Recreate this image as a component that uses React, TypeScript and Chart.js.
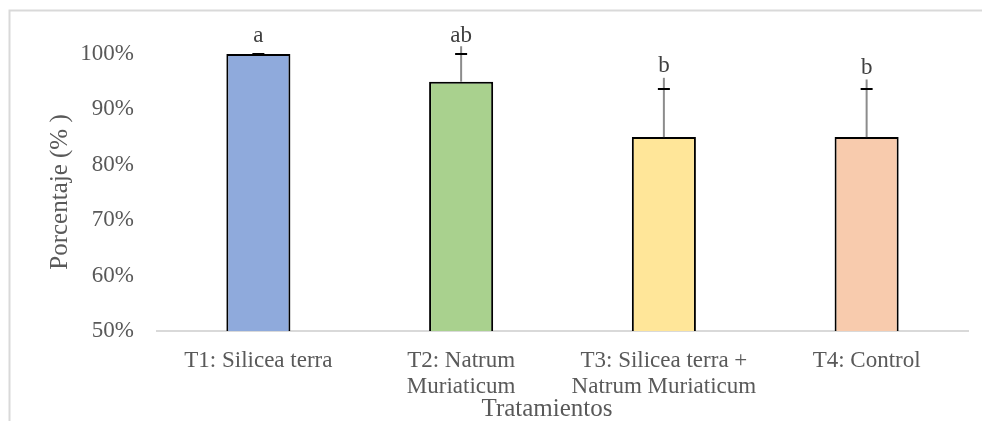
import React, { useEffect, useRef } from "react";
import { Chart, registerables } from "chart.js";

Chart.register(...registerables);

const categories: string[][] = [
  ["T1: Silicea terra"],
  ["T2: Natrum", "Muriaticum"],
  ["T3: Silicea terra +", "Natrum Muriaticum"],
  ["T4: Control"],
];
const values = [100, 95, 85, 85];
const barColors = ["#8faadc", "#a9d18e", "#ffe699", "#f8cbad"];
// error bar: gray whisker length and black cap offset (percentage points)
const errLine = [0, 6.4, 10.7, 10.4];
const errCap = [0, 5, 8.7, 8.7];
// significance letters and the value at which they sit
const letters = ["a", "ab", "b", "b"];
const letterAt = [103.2, 103.2, 97.8, 97.5];
const yTicks = { min: 50, max: 100, step: 10 };
const yTitle = "Porcentaje (% )";
const xTitle = "Tratamientos";

const FONT = "'Liberation Serif', 'Times New Roman', serif";
const TXT = "#595959";

export default function App() {
  const ref = useRef<HTMLCanvasElement>(null);

  useEffect(() => {
    const canvas = ref.current;
    if (!canvas) return;

    const overlay = {
      id: "overlay",
      beforeDraw(chart: any) {
        const ctx = chart.ctx;
        ctx.save();
        ctx.fillStyle = "#ffffff";
        ctx.fillRect(0, 0, chart.width, chart.height);
        ctx.strokeStyle = "#d9d9d9";
        ctx.lineWidth = 2;
        ctx.beginPath();
        ctx.moveTo(9.5, chart.height + 2);
        ctx.lineTo(9.5, 10.5);
        ctx.lineTo(chart.width + 2, 10.5);
        ctx.stroke();
        ctx.restore();
      },
      afterDraw(chart: any) {
        const ctx = chart.ctx;
        const y = chart.scales.y;
        const meta = chart.getDatasetMeta(0);
        ctx.save();
        values.forEach((v, i) => {
          const x = meta.data[i].x;
          const yb = y.getPixelForValue(v);
          if (errLine[i] > 0) {
            ctx.strokeStyle = "#8c8c8c";
            ctx.lineWidth = 2;
            ctx.beginPath();
            ctx.moveTo(x, yb);
            ctx.lineTo(x, y.getPixelForValue(v + errLine[i]));
            ctx.stroke();
          }
          const yc = Math.round(y.getPixelForValue(v + errCap[i]));
          ctx.strokeStyle = "#000000";
          ctx.lineWidth = 2;
          ctx.beginPath();
          ctx.moveTo(x - 6, yc);
          ctx.lineTo(x + 6, yc);
          ctx.stroke();

          ctx.fillStyle = "#404040";
          ctx.font = `23px ${FONT}`;
          ctx.textAlign = "center";
          ctx.textBaseline = "middle";
          ctx.fillText(letters[i], x, y.getPixelForValue(letterAt[i]));
        });

        ctx.fillStyle = TXT;
        ctx.font = `25px ${FONT}`;
        ctx.textAlign = "center";
        ctx.textBaseline = "middle";
        ctx.fillText(xTitle, 547, 409);
        ctx.translate(60, 192);
        ctx.rotate(-Math.PI / 2);
        ctx.fillText(yTitle, 0, 0);
        ctx.restore();
      },
    };

    const chart = new Chart(canvas, {
      type: "bar",
      data: {
        labels: categories,
        datasets: [
          {
            data: values,
            backgroundColor: barColors,
            borderColor: "#000000",
            borderWidth: 2,
            barPercentage: 0.316,
            categoryPercentage: 1,
          },
        ],
      },
      options: {
        animation: false,
        responsive: false,
        devicePixelRatio: 1,
        layout: { padding: { top: 54, right: 14, left: 0, bottom: 0 } },
        plugins: {
          legend: { display: false },
          tooltip: { enabled: false },
          title: { display: false },
        },
        scales: {
          x: {
            grid: { display: false, drawTicks: false },
            border: { display: true, color: "#d9d9d9", width: 2 },
            ticks: {
              color: TXT,
              font: { family: FONT, size: 23, lineHeight: 1.13 },
              padding: 17,
              autoSkip: false,
              maxRotation: 0,
              minRotation: 0,
            },
            afterFit: (s: any) => {
              s.height = 90;
            },
          },
          y: {
            min: yTicks.min,
            max: yTicks.max,
            grid: { display: false, drawTicks: false },
            border: { display: false },
            ticks: {
              stepSize: yTicks.step,
              color: TXT,
              font: { family: FONT, size: 23 },
              padding: 23,
              callback: (v: any) => `${v}%`,
            },
            afterFit: (s: any) => {
              s.width = 157;
            },
          },
        },
      },
      plugins: [overlay],
    });
    return () => chart.destroy();
  }, []);

  return (
    <div style={{ position: "fixed", left: 0, top: 0, width: 982, height: 421, overflow: "hidden" }}>
      <canvas ref={ref} width={982} height={421} style={{ display: "block", width: 982, height: 421 }} />
    </div>
  );
}
